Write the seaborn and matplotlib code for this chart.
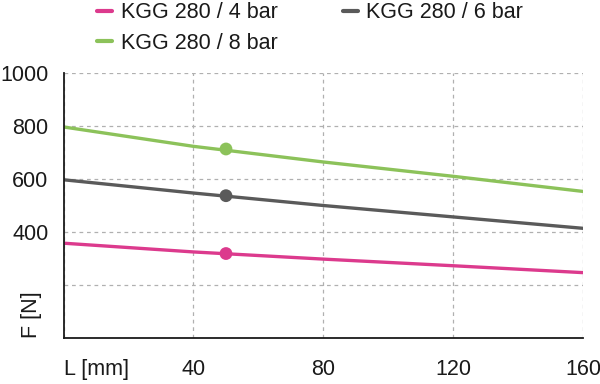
import pandas as pd
import matplotlib.pyplot as plt
import matplotlib.transforms as mtransforms
import seaborn as sns

# stroke length L [mm] and force F [N]
length_mm = [0, 40, 80, 120, 160]
force_4bar = [357, 324, 297, 272, 246]
force_6bar = [596, 546, 499, 456, 413]
force_8bar = [795, 722, 663, 609, 552]

# highlighted working points
point_x = [50, 50, 50]
point_y = [318, 536, 712]

series_names = ['KGG 280 / 4 bar', 'KGG 280 / 6 bar', 'KGG 280 / 8 bar']
colors = ['#dc3a8d', '#5a5a5a', '#8cc25a']

x_ticks = [0, 40, 80, 120, 160]
x_labels = ['L [mm]', '40', '80', '120', '160']
y_ticks = [0, 200, 400, 600, 800, 1000]
y_labels = ['', '', '400', '600', '800', '1000']

df = pd.DataFrame({
    'L': length_mm * 3,
    'F': force_4bar + force_6bar + force_8bar,
    'series': [s for s in series_names for _ in length_mm],
})
points = pd.DataFrame({'L': point_x, 'F': point_y, 'series': series_names})

sns.set_style('white')
plt.rcParams['font.family'] = ['Liberation Sans', 'DejaVu Sans']
fs = 15.5

fig = plt.figure(figsize=(6, 3.84), dpi=100)
ax = fig.add_axes([0.106, 0.12, 0.866, 0.691])

palette = dict(zip(series_names, colors))
sns.lineplot(data=df, x='L', y='F', hue='series', palette=palette,
             linewidth=2.4, ax=ax, legend=False)
sns.scatterplot(data=points, x='L', y='F', hue='series', palette=palette,
                s=85, edgecolor='none', ax=ax, legend=False, zorder=5)

ax.set_xlim(0, 160)
ax.set_ylim(0, 1000)
ax.set_xticks(x_ticks)
ax.set_xticklabels(x_labels)
ax.set_yticks(y_ticks)
ax.set_yticklabels(y_labels)
ax.get_xticklabels()[0].set_horizontalalignment('left')
ax.set_xlabel('')
ax.set_ylabel('')

ax.grid(True, linestyle=(0, (3, 3)), color='#b0b0b0', linewidth=0.9)
for side in ['top', 'right']:
    ax.spines[side].set_visible(False)
for side in ['left', 'bottom']:
    ax.spines[side].set_color('#1a1a1a')
    ax.spines[side].set_linewidth(1.3)
ax.tick_params(axis='both', direction='out', length=6, width=1.3,
               color='#1a1a1a', labelsize=fs, labelcolor='#1a1a1a', pad=5)
ax.tick_params(axis='x', pad=9)

trans = mtransforms.blended_transform_factory(ax.transAxes, ax.transData)
ax.text(-0.062, 0, 'F [N]', transform=trans, rotation=90, ha='center',
        va='bottom', fontsize=fs, color='#1a1a1a')

# legend: column-wise fill gives 4 bar / 8 bar on the left, 6 bar on the right
handles = [plt.Line2D([], [], color=palette[n], linewidth=3) for n in series_names]
order = [0, 2, 1]
fig.legend([handles[i] for i in order], [series_names[i] for i in order],
           loc='upper left', bbox_to_anchor=(0.13, 1.045), ncol=2, frameon=False,
           fontsize=fs, handlelength=0.7, handletextpad=0.4,
           columnspacing=3.0, labelspacing=0.45, labelcolor='#1a1a1a')

fig.savefig('out.png', dpi=100)
